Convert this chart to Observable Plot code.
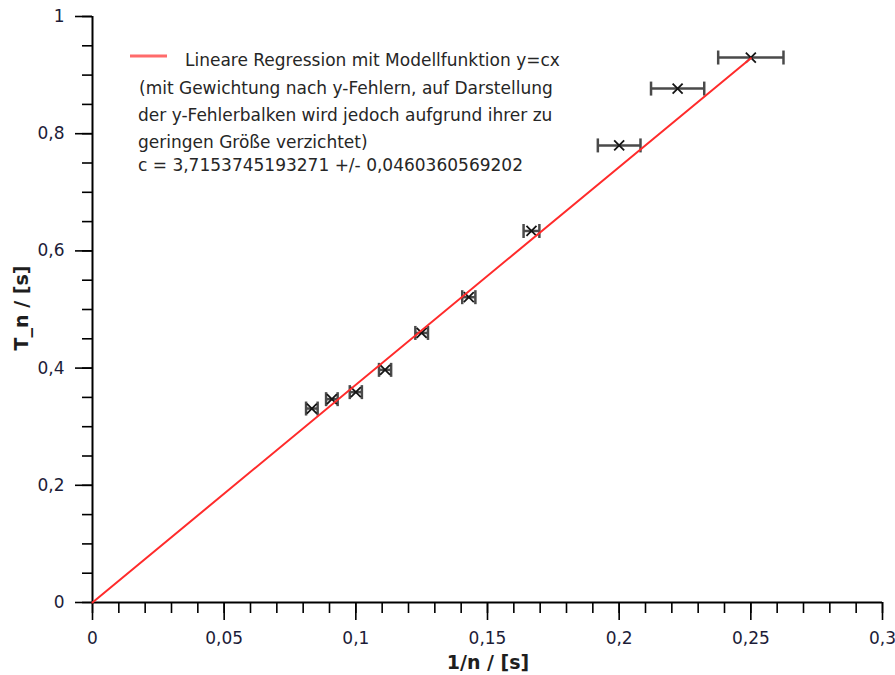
<!DOCTYPE html>
<html><head><meta charset="utf-8">
<script src="https://cdn.jsdelivr.net/npm/d3@7"></script>
<script src="https://cdn.jsdelivr.net/npm/@observablehq/plot@0.6"></script>
<style>
body{margin:0;background:#fff;}
#wrap{position:relative;width:895px;height:675px;overflow:hidden;}
</style></head><body><div id="wrap"></div>
<script>
// regression coefficient
const cValue = 3.7153745193271;
const cErrText = "0,0460360569202";
const cText = "3,7153745193271";

// measurements
const invN = [0.0833, 0.0909, 0.1, 0.1111, 0.125, 0.1429, 0.1667, 0.2, 0.2222, 0.25];
const Tn   = [0.331, 0.347, 0.359, 0.397, 0.460, 0.521, 0.634, 0.780, 0.877, 0.930];
const xErr = [0.0022, 0.0022, 0.0023, 0.0023, 0.0024, 0.0025, 0.0030, 0.0081, 0.0101, 0.0124];

// ticks
const xMajor = [0, 0.05, 0.1, 0.15, 0.2, 0.25, 0.3];
const xMajorLabels = ["0", "0,05", "0,1", "0,15", "0,2", "0,25", "0,3"];
const yMajor = [0, 0.2, 0.4, 0.6, 0.8, 1];
const yMajorLabels = ["0", "0,2", "0,4", "0,6", "0,8", "1"];
const xMinor = d3.range(0, 31).map(i => i / 100);
const yMinor = d3.range(0, 21).map(i => i / 20);
const fitRange = [0, 0.25];

const legendLines = [
  "Lineare Regression mit Modellfunktion y=cx",
  "(mit Gewichtung nach y-Fehlern, auf Darstellung",
  "der y-Fehlerbalken wird jedoch aufgrund ihrer zu",
  "geringen Größe verzichtet)",
  "c = " + cText + " +/- " + cErrText
];

const data = invN.map((x, i) => ({x, T: Tn[i], e: xErr[i]}));
const fit = fitRange.map(x => ({x, y: cValue * x}));

const vbar = {draw(ctx, size) { const r = Math.sqrt(size / Math.PI); ctx.moveTo(0, -r); ctx.lineTo(0, r); }};
const cross = {draw(ctx, size) { const r = Math.sqrt(size / Math.PI); ctx.moveTo(-r, -r); ctx.lineTo(r, r); ctx.moveTo(-r, r); ctx.lineTo(r, -r); }};

const labelColor = "#1c1c38";
const chart = Plot.plot({
  width: 895, height: 675,
  marginLeft: 92, marginRight: 13, marginTop: 16, marginBottom: 73,
  x: {domain: [0, 0.3]},
  y: {domain: [0, 1]},
  style: {fontFamily: "'DejaVu Sans', sans-serif", fontSize: "17px", background: "#fff", overflow: "visible"},
  marks: [
    Plot.axisX(xMinor, {tickSize: 11, tickFormat: () => "", label: null, stroke: "#000", strokeWidth: 1.6}),
    Plot.axisX(xMajor, {tickSize: 18, tickPadding: 11, tickFormat: d => xMajorLabels[xMajor.indexOf(d)], label: null, stroke: "#000", strokeWidth: 1.6, fill: labelColor}),
    Plot.axisY(yMinor, {tickSize: 10, tickFormat: () => "", label: null, stroke: "#000", strokeWidth: 1.6}),
    Plot.axisY(yMajor, {tickSize: 17, tickPadding: 11, tickFormat: d => yMajorLabels[yMajor.indexOf(d)], label: null, stroke: "#000", strokeWidth: 1.6, fill: labelColor}),
    Plot.ruleY([0], {stroke: "#000", strokeWidth: 2}),
    Plot.ruleX([0], {stroke: "#000", strokeWidth: 2}),
    Plot.ruleY(data, {y: "T", x1: d => d.x - d.e, x2: d => d.x + d.e, stroke: "#4a4a4a", strokeWidth: 2.5}),
    Plot.dot(data, {x: d => d.x - d.e, y: "T", symbol: vbar, r: 7, stroke: "#4a4a4a", strokeWidth: 2.5}),
    Plot.dot(data, {x: d => d.x + d.e, y: "T", symbol: vbar, r: 7, stroke: "#4a4a4a", strokeWidth: 2.5}),
    Plot.dot(data, {x: "x", y: "T", symbol: cross, r: 5, stroke: "#151515", strokeWidth: 1.8}),
    Plot.line(fit, {x: "x", y: "y", stroke: "#ff2b2b", strokeWidth: 2})
  ]
});
document.getElementById("wrap").appendChild(chart);

const svg = d3.select(chart);
// axis titles
svg.append("text").attr("x", 488).attr("y", 669).attr("text-anchor", "middle")
  .attr("font-weight", "bold").attr("font-size", 19).attr("fill", "#1e1e1e").text("1/n / [s]");
svg.append("text").attr("transform", "translate(28,308) rotate(-90)").attr("text-anchor", "middle")
  .attr("font-weight", "bold").attr("font-size", 19).attr("fill", "#1e1e1e").text("T_n / [s]");
// legend
svg.append("line").attr("x1", 130).attr("x2", 167).attr("y1", 56).attr("y2", 56)
  .attr("stroke", "#ff6b6b").attr("stroke-width", 3);
const lx = [185, 139, 138, 138, 138];
const ly = [66, 94, 121, 148, 171];
legendLines.forEach((t, i) => {
  svg.append("text").attr("x", lx[i]).attr("y", ly[i])
    .attr("text-anchor", "start")
    .attr("font-family", "'DejaVu Sans', sans-serif")
    .attr("font-size", 17).attr("fill", "#262626").text(t);
});
</script>
</body></html>
